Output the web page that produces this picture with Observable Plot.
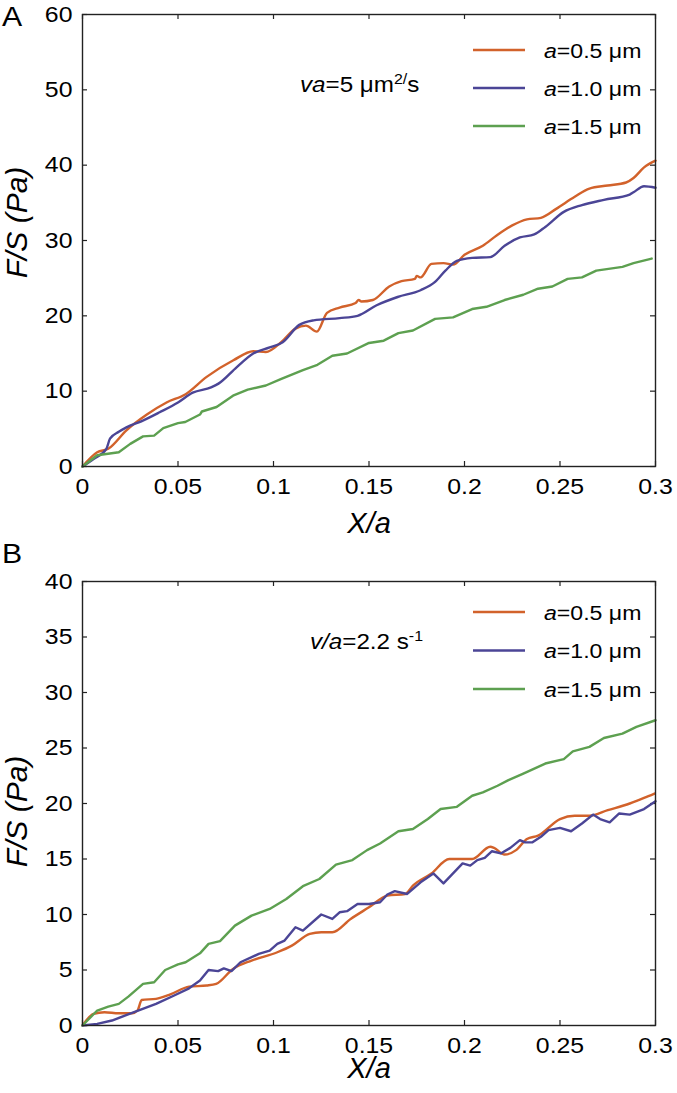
<!DOCTYPE html>
<html>
<head>
<meta charset="utf-8">
<script src="https://cdn.jsdelivr.net/npm/d3@7"></script>
<script src="https://cdn.jsdelivr.net/npm/@observablehq/plot@0.6"></script>
<style>
  html, body { margin: 0; padding: 0; background: #fff; }
  #chart svg { display: block; }
</style>
</head>
<body>
<div id="chart"></div>
<script>
// ---------- data ----------
const xTicks = [0, 0.05, 0.1, 0.15, 0.2, 0.25, 0.3];
const xTickLabels = ["0", "0.05", "0.1", "0.15", "0.2", "0.25", "0.3"];
const yTicksA = [0, 10, 20, 30, 40, 50, 60];
const yTicksB = [0, 5, 10, 15, 20, 25, 30, 35, 40];
const seriesLabels = ["a=0.5 μm", "a=1.0 μm", "a=1.5 μm"];
const seriesColors = ["#d2622b", "#4b4596", "#5da050"];
const xLabel = "X/a";
const yLabel = "F/S (Pa)";
const panelLetters = ["A", "B"];
// annotation parts: [text, style] where style: "i" italic, "s" superscript, "" normal
const annotA = [["va", "i"], ["=5 μm", ""], ["2/", "s"], ["s", ""]];
const annotB = [["v/a", "i"], ["=2.2 s", ""], ["-1", "s"]];

// Panel A (va = 5 µm²/s)
const A_a05 = [[0,0],[0.0077,1.9],[0.0135,2.35],[0.023,4.8],[0.0337,6.9],[0.044,8.5],[0.054,9.6],[0.065,11.9],[0.079,14.1],[0.0894,15.3],[0.096,15.2],[0.104,16.5],[0.1115,18.3],[0.117,18.7],[0.1227,17.9],[0.128,20.4],[0.1346,21.1],[0.143,21.7],[0.1446,22.1],[0.146,21.9],[0.152,22.1],[0.1606,23.9],[0.167,24.6],[0.174,24.9],[0.175,25.3],[0.177,25.1],[0.1827,26.9],[0.189,27.0],[0.194,26.8],[0.2,28.1],[0.2096,29.3],[0.217,30.7],[0.225,32.0],[0.2327,32.8],[0.24,33.0],[0.248,34.2],[0.2577,35.8],[0.2654,36.9],[0.275,37.3],[0.2846,37.7],[0.2885,38.3],[0.294,39.7],[0.3,40.6]];
const A_a10 = [[0,0],[0.0058,1.0],[0.0125,2.35],[0.0144,3.7],[0.019,4.6],[0.023,5.2],[0.0308,6.0],[0.0404,7.2],[0.05,8.5],[0.0577,9.8],[0.0673,10.5],[0.0712,11.0],[0.0808,13.2],[0.0894,15.0],[0.098,15.8],[0.1048,16.5],[0.1135,18.8],[0.121,19.4],[0.1346,19.7],[0.144,20.0],[0.154,21.4],[0.165,22.5],[0.177,23.4],[0.1846,24.5],[0.19,26.0],[0.196,27.3],[0.204,27.7],[0.2135,27.8],[0.221,29.3],[0.229,30.4],[0.2365,30.8],[0.2423,31.8],[0.252,33.8],[0.2615,34.7],[0.273,35.4],[0.2865,36.1],[0.2885,36.4],[0.294,37.2],[0.3,37.0]];
const A_a15 = [[0,0],[0.0077,1.5],[0.019,1.9],[0.025,3.0],[0.0317,4.0],[0.0375,4.1],[0.0423,5.1],[0.05,5.75],[0.0538,5.9],[0.0615,6.9],[0.0625,7.3],[0.0702,7.9],[0.0788,9.4],[0.0865,10.2],[0.096,10.75],[0.1038,11.6],[0.1154,12.8],[0.123,13.5],[0.1308,14.7],[0.1385,15.0],[0.15,16.4],[0.1577,16.7],[0.1654,17.7],[0.173,18.05],[0.1846,19.6],[0.194,19.8],[0.204,20.9],[0.2115,21.2],[0.221,22.1],[0.2308,22.8],[0.2385,23.6],[0.246,23.9],[0.254,24.9],[0.2615,25.1],[0.269,26.0],[0.2827,26.5],[0.2885,27.0],[0.298,27.6]];

// Panel B (v/a = 2.2 s⁻¹)
const B_a05 = [[0,0],[0.0058,1.05],[0.0115,1.2],[0.019,1.1],[0.026,1.1],[0.0288,1.35],[0.031,2.3],[0.0385,2.4],[0.046,2.8],[0.0558,3.5],[0.065,3.6],[0.07,3.75],[0.0788,5.1],[0.0885,5.85],[0.102,6.6],[0.1096,7.2],[0.119,8.25],[0.125,8.4],[0.1308,8.4],[0.1404,9.6],[0.15,10.65],[0.1596,11.7],[0.169,11.85],[0.173,12.6],[0.1827,13.7],[0.192,15.0],[0.204,15.0],[0.2135,16.1],[0.2155,16.0],[0.221,15.4],[0.227,15.8],[0.2327,16.8],[0.2385,17.1],[0.25,18.6],[0.2577,18.9],[0.2654,18.9],[0.275,19.4],[0.2865,20.0],[0.294,20.5],[0.2995,20.9]];
const B_a10 = [[0,0],[0.0077,0.15],[0.0154,0.45],[0.027,1.2],[0.0385,1.95],[0.048,2.7],[0.0558,3.35],[0.0615,4.05],[0.066,5.0],[0.071,4.9],[0.074,5.15],[0.078,4.9],[0.0827,5.7],[0.0923,6.45],[0.098,6.75],[0.102,7.35],[0.1058,7.65],[0.1115,8.85],[0.1154,8.55],[0.125,10.0],[0.1308,9.6],[0.1346,10.2],[0.1385,10.3],[0.144,10.95],[0.15,10.95],[0.1558,11.1],[0.1596,11.8],[0.1635,12.1],[0.17,11.85],[0.177,12.9],[0.1837,13.7],[0.189,12.8],[0.199,14.6],[0.203,14.4],[0.2067,14.9],[0.2106,15.1],[0.2144,15.7],[0.219,15.5],[0.224,16.0],[0.229,16.7],[0.2317,16.5],[0.2356,16.5],[0.24,17.0],[0.244,17.6],[0.25,17.8],[0.2558,17.5],[0.2615,18.2],[0.2673,19.0],[0.271,18.6],[0.276,18.3],[0.281,19.1],[0.2865,19.0],[0.294,19.5],[0.3,20.2]];
const B_a15 = [[0,0],[0.0077,1.35],[0.0135,1.7],[0.019,1.95],[0.024,2.6],[0.0317,3.75],[0.0375,3.9],[0.0433,5.0],[0.05,5.5],[0.054,5.7],[0.0615,6.5],[0.066,7.35],[0.072,7.6],[0.0798,9.0],[0.0885,9.9],[0.098,10.5],[0.1067,11.4],[0.1154,12.55],[0.124,13.2],[0.1327,14.5],[0.1413,14.9],[0.149,15.8],[0.1558,16.4],[0.1654,17.5],[0.173,17.7],[0.1808,18.6],[0.1875,19.5],[0.196,19.7],[0.204,20.7],[0.2096,21.0],[0.2173,21.6],[0.223,22.1],[0.2308,22.7],[0.2423,23.6],[0.252,24.0],[0.2567,24.7],[0.2654,25.1],[0.273,25.9],[0.2827,26.3],[0.29,26.9],[0.3,27.5]];

// ---------- drawing ----------
const FONT = "'Liberation Sans', Arial, Helvetica, sans-serif";
const W = 677, ML = 82, MR = 22, TICK = 5;
const TEXT_SX = 1.13; // reference glyphs are slightly wider than Liberation Sans

function richText(g, x, y, parts, size, sx = TEXT_SX) {
  const t = g.append("text").attr("x", 0).attr("y", 0)
    .attr("transform", `translate(${x},${y}) scale(${sx},1)`)
    .attr("text-anchor", "start")
    .attr("font-size", size).attr("fill", "#000").attr("font-family", FONT);
  let raised = false;
  for (const [txt, st] of parts) {
    const sp = t.append("tspan").text(txt);
    if (st === "i") sp.attr("font-style", "italic");
    if (st === "s") { sp.attr("font-size", size * 0.66).attr("dy", -size * 0.38); raised = true; }
    else if (raised) { sp.attr("dy", size * 0.38); raised = false; }
  }
  return t;
}

function overlay(o) {
  return (index, scales, values, dims) => {
    const g = d3.create("svg:g");
    const left = dims.marginLeft, top = dims.marginTop;
    const right = dims.width - dims.marginRight;
    // panel letter
    richText(g, 2, top + o.letterDy, [[o.letter, ""]], 27, 1.12);
    // annotation
    richText(g, left + o.annotDx, top + o.annotDy, o.annot, 22, 1.1);
    // legend
    seriesLabels.forEach((lab, i) => {
      const y = top + o.legTop + i * o.legGap;
      g.append("line").attr("x1", right - 182).attr("x2", right - 130)
        .attr("y1", y).attr("y2", y)
        .attr("stroke", seriesColors[i]).attr("stroke-width", 2.6);
      const [a, rest] = lab.split("=");
      richText(g, right - 111, y + 7.5, [[a, "i"], ["=" + rest, ""]], 21, 1.1);
    });
    return g.node();
  };
}

function widenTickLabels(svg) {
  svg.querySelectorAll("g[aria-label*='tick label'] text").forEach(t => {
    const tr = t.getAttribute("transform");
    if (tr) t.setAttribute("transform", tr + ` scale(${TEXT_SX},1)`);
    else {
      const x = +t.getAttribute("x") || 0, y = +t.getAttribute("y") || 0;
      t.setAttribute("transform", `translate(${x},${y}) scale(${TEXT_SX},1) translate(${-x},${-y})`);
    }
  });
}

function panel(o) {
  const plotH = o.height - o.marginTop - o.marginBottom;
  const plotW = W - ML - MR;
  const lines = o.series.map((s, i) => Plot.line(s, {
    x: d => d[0], y: d => d[1], stroke: seriesColors[i], strokeWidth: 2.4,
    curve: o.curves[i]
  }));
  const svg = Plot.plot({
    width: W, height: o.height,
    marginLeft: ML, marginRight: MR, marginTop: o.marginTop, marginBottom: o.marginBottom,
    style: { fontFamily: FONT, color: "#000", background: "#fff", overflow: "visible" },
    x: { domain: [0, 0.3] },
    y: { domain: o.yDomain },
    marks: [
      Plot.axisX({ ticks: xTicks, tickSize: 0, tickPadding: 12, fontSize: 22, label: null,
        tickFormat: d => xTickLabels[xTicks.indexOf(d)] }),
      Plot.axisY({ ticks: o.yTicks, tickSize: 0, tickPadding: 10, fontSize: 22, label: null,
        tickFormat: d => String(d) }),
      // inward ticks on all four sides
      Plot.ruleX(xTicks, { x: d => d, insetTop: plotH - TICK, stroke: "#222", strokeWidth: 1.2 }),
      Plot.ruleX(xTicks, { x: d => d, insetBottom: plotH - TICK, stroke: "#222", strokeWidth: 1.2 }),
      Plot.ruleY(o.yTicks, { y: d => d, insetRight: plotW - TICK, stroke: "#222", strokeWidth: 1.2 }),
      Plot.ruleY(o.yTicks, { y: d => d, insetLeft: plotW - TICK, stroke: "#222", strokeWidth: 1.2 }),
      ...lines,
      Plot.frame({ stroke: "#222", strokeWidth: 1.4 }),
      overlay(o),
      Plot.text([xLabel], { frameAnchor: "bottom", text: d => d, dy: o.xLabelDy,
        fontSize: 29, fontStyle: "italic", fill: "#000" }),
      Plot.text([yLabel], { frameAnchor: "left", text: d => d, rotate: -90, dx: -65, dy: o.yLabelDy,
        fontSize: 30, fontStyle: "italic", fill: "#000", textAnchor: "middle" })
    ]
  });
  widenTickLabels(svg);
  return svg;
}

const chart = document.getElementById("chart");
chart.append(panel({
  letter: panelLetters[0], series: [A_a05, A_a10, A_a15],
  curves: ["monotone-x", "monotone-x", "linear"],
  yDomain: [0, 60], yTicks: yTicksA,
  height: 545, marginTop: 14, marginBottom: 79,
  annot: annotA, annotDx: 218, annotDy: 78, legTop: 36, legGap: 38,
  xLabelDy: 66, yLabelDy: -18, letterDy: 12
}));
chart.append(panel({
  letter: panelLetters[1], series: [B_a05, B_a10, B_a15],
  curves: ["monotone-x", "linear", "linear"],
  yDomain: [0, 40], yTicks: yTicksB,
  height: 548, marginTop: 36, marginBottom: 68,
  annot: annotB, annotDx: 228, annotDy: 68, legTop: 31, legGap: 38.5,
  xLabelDy: 52, yLabelDy: 8, letterDy: -18
}));
</script>
</body>
</html>
